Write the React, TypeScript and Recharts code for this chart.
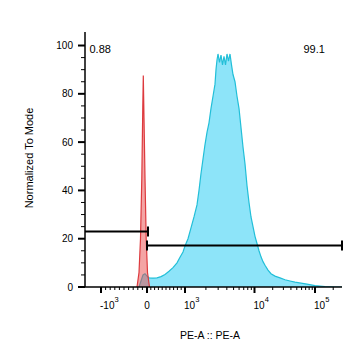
import { ComposedChart, Area, XAxis, YAxis, ReferenceLine } from "recharts";

// PE-A histogram overlay. x is the display channel of the biexponential axis (0..257 across the plot).
const blueChannel = [54, 56, 58, 60, 62, 64, 68, 72, 76, 80, 84, 88, 92, 95, 98, 100, 103, 106, 109, 112, 114, 116, 118, 120, 122, 124, 126, 128, 130, 131, 132, 133, 134.5, 136, 137.5, 139, 140.5, 142, 143.5, 145, 146.5, 148, 150, 152, 154, 156, 158, 160, 162, 164, 166, 168, 170, 172, 174, 176, 178, 180, 183, 186, 190, 195, 200, 205, 210, 216, 222, 230, 240, 250, 257];
const blueCount = [0, 2.5, 5, 5.5, 4.5, 3.8, 3.7, 3.8, 4.3, 5.2, 6.5, 8, 10, 12.3, 14.5, 17, 20, 24.5, 29, 34, 40, 47, 53, 59, 64, 68, 74, 79, 84, 90, 94, 96.5, 93, 96, 92, 95.5, 92, 96.5, 93.5, 96.5, 92, 88, 85, 79, 74, 66, 58, 51, 42, 35, 29, 25, 21, 18, 15, 12.5, 10.5, 9, 7, 5.5, 4.5, 3.8, 3, 2.5, 2, 1.6, 1.2, 0.6, 0.2, 0, 0];

const redChannel = [52, 54, 55.5, 56.8, 57.8, 58.3, 59, 60, 61.2, 62.5, 64.5];
const redCount = [0, 6, 20, 45, 75, 87.6, 70, 45, 20, 6, 0];

// axis anchors: value -> display channel
const anchorValues = [-1000, 0, 1000, 10000, 100000];
const anchorChannels = [16, 62, 100, 169.5, 230];

const majorValues = [-1000, 0, 1000, 10000, 100000];
const majorBase = ["-10", "0", "10", "10", "10"];
const majorExp = ["3", "", "3", "4", "5"];
const minorValues = [
  -900, -800, -700, -600, -500, -400, -300, -200, -100,
  100, 200, 300, 400, 500, 600, 700, 800, 900,
  2000, 3000, 4000, 5000, 6000, 7000, 8000, 9000,
  20000, 30000, 40000, 50000, 60000, 70000, 80000, 90000,
  200000,
];

const yTicks = [0, 5, 10, 15, 20, 25, 30, 35, 40, 45, 50, 55, 60, 65, 70, 75, 80, 85, 90, 95, 100];

// gates: percent label, y level, from channel, to channel
const gateLabels = ["0.88", "99.1"];
const gateLevel = [23, 17.2];
const gateFrom = [0, 62];
const gateTo = [63, 257];

function toChannel(v: number) {
  if (v <= anchorValues[1]) return anchorChannels[1] + (anchorChannels[1] - anchorChannels[0]) * (v / 1000);
  if (v <= anchorValues[2]) return anchorChannels[1] + (anchorChannels[2] - anchorChannels[1]) * (v / 1000);
  if (v <= anchorValues[3]) return anchorChannels[2] + (anchorChannels[3] - anchorChannels[2]) * Math.log10(v / 1000);
  return anchorChannels[3] + (anchorChannels[4] - anchorChannels[3]) * Math.log10(v / 10000);
}

const xTicks = [
  ...majorValues.map((v, i) => ({ ch: toChannel(v), major: true, i })),
  ...minorValues.map((v) => ({ ch: toChannel(v), major: false, i: -1 })),
].sort((a, b) => a.ch - b.ch);

const rows = new Map<number, { ch: number; blue?: number; red?: number }>();
blueChannel.forEach((c, i) => rows.set(c, { ...(rows.get(c) || { ch: c }), blue: blueCount[i] }));
redChannel.forEach((c, i) => rows.set(c, { ...(rows.get(c) || { ch: c }), red: redCount[i] }));
const data = [...rows.values()].sort((a, b) => a.ch - b.ch);

const FONT = "'Liberation Sans', Arial, sans-serif";

function XTick(props: any) {
  const { x, y, index } = props;
  const t = xTicks[index];
  if (!t) return null;
  if (!t.major) {
    return <line x1={x} x2={x} y1={y} y2={y + 3} stroke="#000" strokeWidth={1} />;
  }
  const exp = majorExp[t.i];
  return (
    <g>
      <line x1={x} x2={x} y1={y} y2={y + 6} stroke="#000" strokeWidth={2} />
      <text
        x={exp ? x - 1 : x}
        y={y + 22}
        textAnchor={exp ? "start" : "middle"}
        fontSize={10}
        fontFamily={FONT}
        fill="#000"
      >
        <tspan>{majorBase[t.i]}</tspan>
        {exp && (
          <tspan dy={-7} fontSize={7.5}>
            {exp}
          </tspan>
        )}
      </text>
    </g>
  );
}

function YTick(props: any) {
  const { x, y, payload } = props;
  const major = payload.value % 20 === 0;
  return (
    <g>
      <line x1={x - (major ? 7 : 4)} x2={x} y1={y} y2={y} stroke="#000" strokeWidth={major ? 2 : 1} />
      {major && (
        <text x={x - 12} y={y + 3.5} textAnchor="end" fontSize={10} fontFamily={FONT} fill="#000">
          {payload.value}
        </text>
      )}
    </g>
  );
}

export default function App() {
  const capHalf = 2.1;
  return (
    <div style={{ width: 346, height: 343 }}>
      <ComposedChart
        width={346}
        height={343}
        data={data}
        margin={{ top: 24, right: 12, bottom: 34, left: 0 }}
        style={{ fontFamily: FONT }}
      >
        <XAxis
          dataKey="ch"
          type="number"
          domain={[0, 257]}
          ticks={xTicks.map((t) => t.ch)}
          interval={0}
          tick={<XTick />}
          tickLine={false}
          tickSize={0}
          tickMargin={0}
          height={30}
          axisLine={{ stroke: "#000", strokeWidth: 1.5 }}
          allowDataOverflow
        />
        <XAxis xAxisId="top" orientation="top" type="number" domain={[0, 257]} tick={false} tickLine={false} height={0} axisLine={{ stroke: "#000" }} />
        <YAxis
          type="number"
          domain={[0, 105.6]}
          ticks={yTicks}
          interval={0}
          tick={<YTick />}
          tickLine={false}
          tickSize={0}
          tickMargin={0}
          width={77}
          axisLine={{ stroke: "#000", strokeWidth: 1.5 }}
          allowDataOverflow
        />
        <YAxis yAxisId="right" orientation="right" type="number" domain={[0, 105.6]} tick={false} tickLine={false} width={0} axisLine={{ stroke: "#000" }} />
        <Area
          type="linear"
          dataKey="blue"
          stroke="#22BFD8"
          strokeWidth={1.2}
          fill="#8DE4F9"
          fillOpacity={1}
          connectNulls
          isAnimationActive={false}
          dot={false}
          activeDot={false}
        />
        <Area
          type="linear"
          dataKey="red"
          stroke="#DD3A3E"
          strokeWidth={1.2}
          fill="#EA4A4A"
          fillOpacity={0.5}
          connectNulls
          isAnimationActive={false}
          dot={false}
          activeDot={false}
        />
        {gateLevel.map((lvl, i) => (
          <ReferenceLine
            key={"g" + i}
            segment={[
              { x: gateFrom[i], y: lvl },
              { x: gateTo[i], y: lvl },
            ]}
            stroke="#000"
            strokeWidth={2}
          />
        ))}
        {gateLevel.flatMap((lvl, i) =>
          [gateFrom[i], gateTo[i]]
            .filter((c) => c > 0)
            .map((c, j) => (
              <ReferenceLine
                key={"c" + i + j}
                segment={[
                  { x: c, y: lvl - capHalf },
                  { x: c, y: lvl + capHalf },
                ]}
                stroke="#000"
                strokeWidth={2}
              />
            ))
        )}
        <text x={81.5} y={45} fontSize={11} fontFamily={FONT} fill="#000">
          {gateLabels[0]}
        </text>
        <text x={295.5} y={45} fontSize={11} fontFamily={FONT} fill="#000">
          {gateLabels[1]}
        </text>
        <text x={202} y={331} textAnchor="middle" fontSize={10.5} fontFamily={FONT} fill="#000">
          PE-A :: PE-A
        </text>
        <text
          x={0}
          y={0}
          transform="translate(25 150) rotate(-90)"
          textAnchor="middle"
          fontSize={11}
          fontFamily={FONT}
          fill="#000"
        >
          Normalized To Mode
        </text>
      </ComposedChart>
    </div>
  );
}
